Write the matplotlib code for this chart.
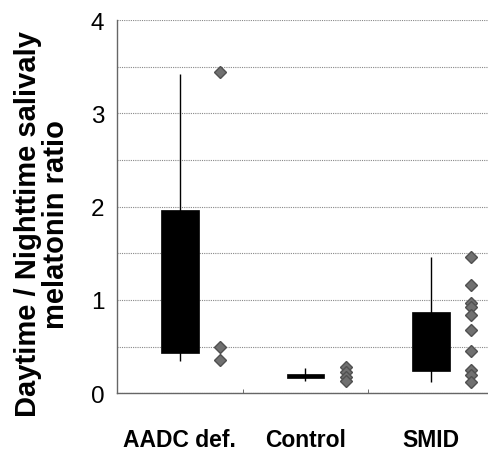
import numpy as np
import matplotlib.pyplot as plt

plt.rcParams['font.family'] = ['Liberation Sans', 'DejaVu Sans']

groups = ['AADC def.', 'Control', 'SMID']
q1 = [0.43, 0.16, 0.24]
q3 = [1.96, 0.20, 0.87]
wlow = [0.35, 0.13, 0.12]
whigh = [3.42, 0.27, 1.46]

aadc_pts = [3.45, 0.49, 0.36]
control_pts = [0.28, 0.23, 0.17, 0.13]
smid_pts = [1.46, 1.16, 0.97, 0.92, 0.84, 0.68, 0.45, 0.25, 0.19, 0.12]
points = [aadc_pts, control_pts, smid_pts]

fig = plt.figure(figsize=(4.89, 4.52), dpi=100)
ax = fig.add_axes([0.239, 0.128, 0.771, 0.825])

x = np.arange(len(groups))
ax.vlines(x, wlow, whigh, color='black', linewidth=1, zorder=2)
ax.bar(x, np.array(q3) - np.array(q1), bottom=q1, width=0.3,
       color='black', edgecolor='black', linewidth=0.5, zorder=3)

for i, pts in enumerate(points):
    ax.plot(np.full(len(pts), i + 0.32), pts, linestyle='none', marker='D',
            markersize=6.5, markerfacecolor='#707070', markeredgecolor='#505050',
            zorder=4)

ax.set_xlim(-0.5, 2.5)
ax.set_ylim(0, 4)
ax.set_yticks([0, 1, 2, 3, 4])
ax.set_yticks(np.arange(0, 4.01, 0.5), minor=True)
ax.yaxis.grid(True, which='both', linestyle=(0, (1, 1)), color='#888888', linewidth=0.8)
ax.set_axisbelow(True)

ax.set_xticks(x)
ax.set_xticklabels(groups, fontsize=16.5, fontweight='bold')
ax.set_xticks([0.5, 1.5], minor=True)
ax.tick_params(axis='x', which='major', length=0, pad=25)
ax.tick_params(axis='x', which='minor', length=3, direction='in', color='#555555')
ax.tick_params(axis='y', which='both', length=0, pad=9, labelsize=17.5)

for side in ['top', 'right']:
    ax.spines[side].set_visible(False)
for side in ['left', 'bottom']:
    ax.spines[side].set_linestyle((0, (1, 1)))
    ax.spines[side].set_color('#666666')
    ax.spines[side].set_linewidth(1)

ax.set_ylabel('Daytime / Nighttime salivaly\nmelatonin ratio', fontsize=21,
              fontweight='bold', linespacing=1.0)
ax.yaxis.set_label_coords(-0.123, 0.456)

fig.savefig('out.png', dpi=100)
